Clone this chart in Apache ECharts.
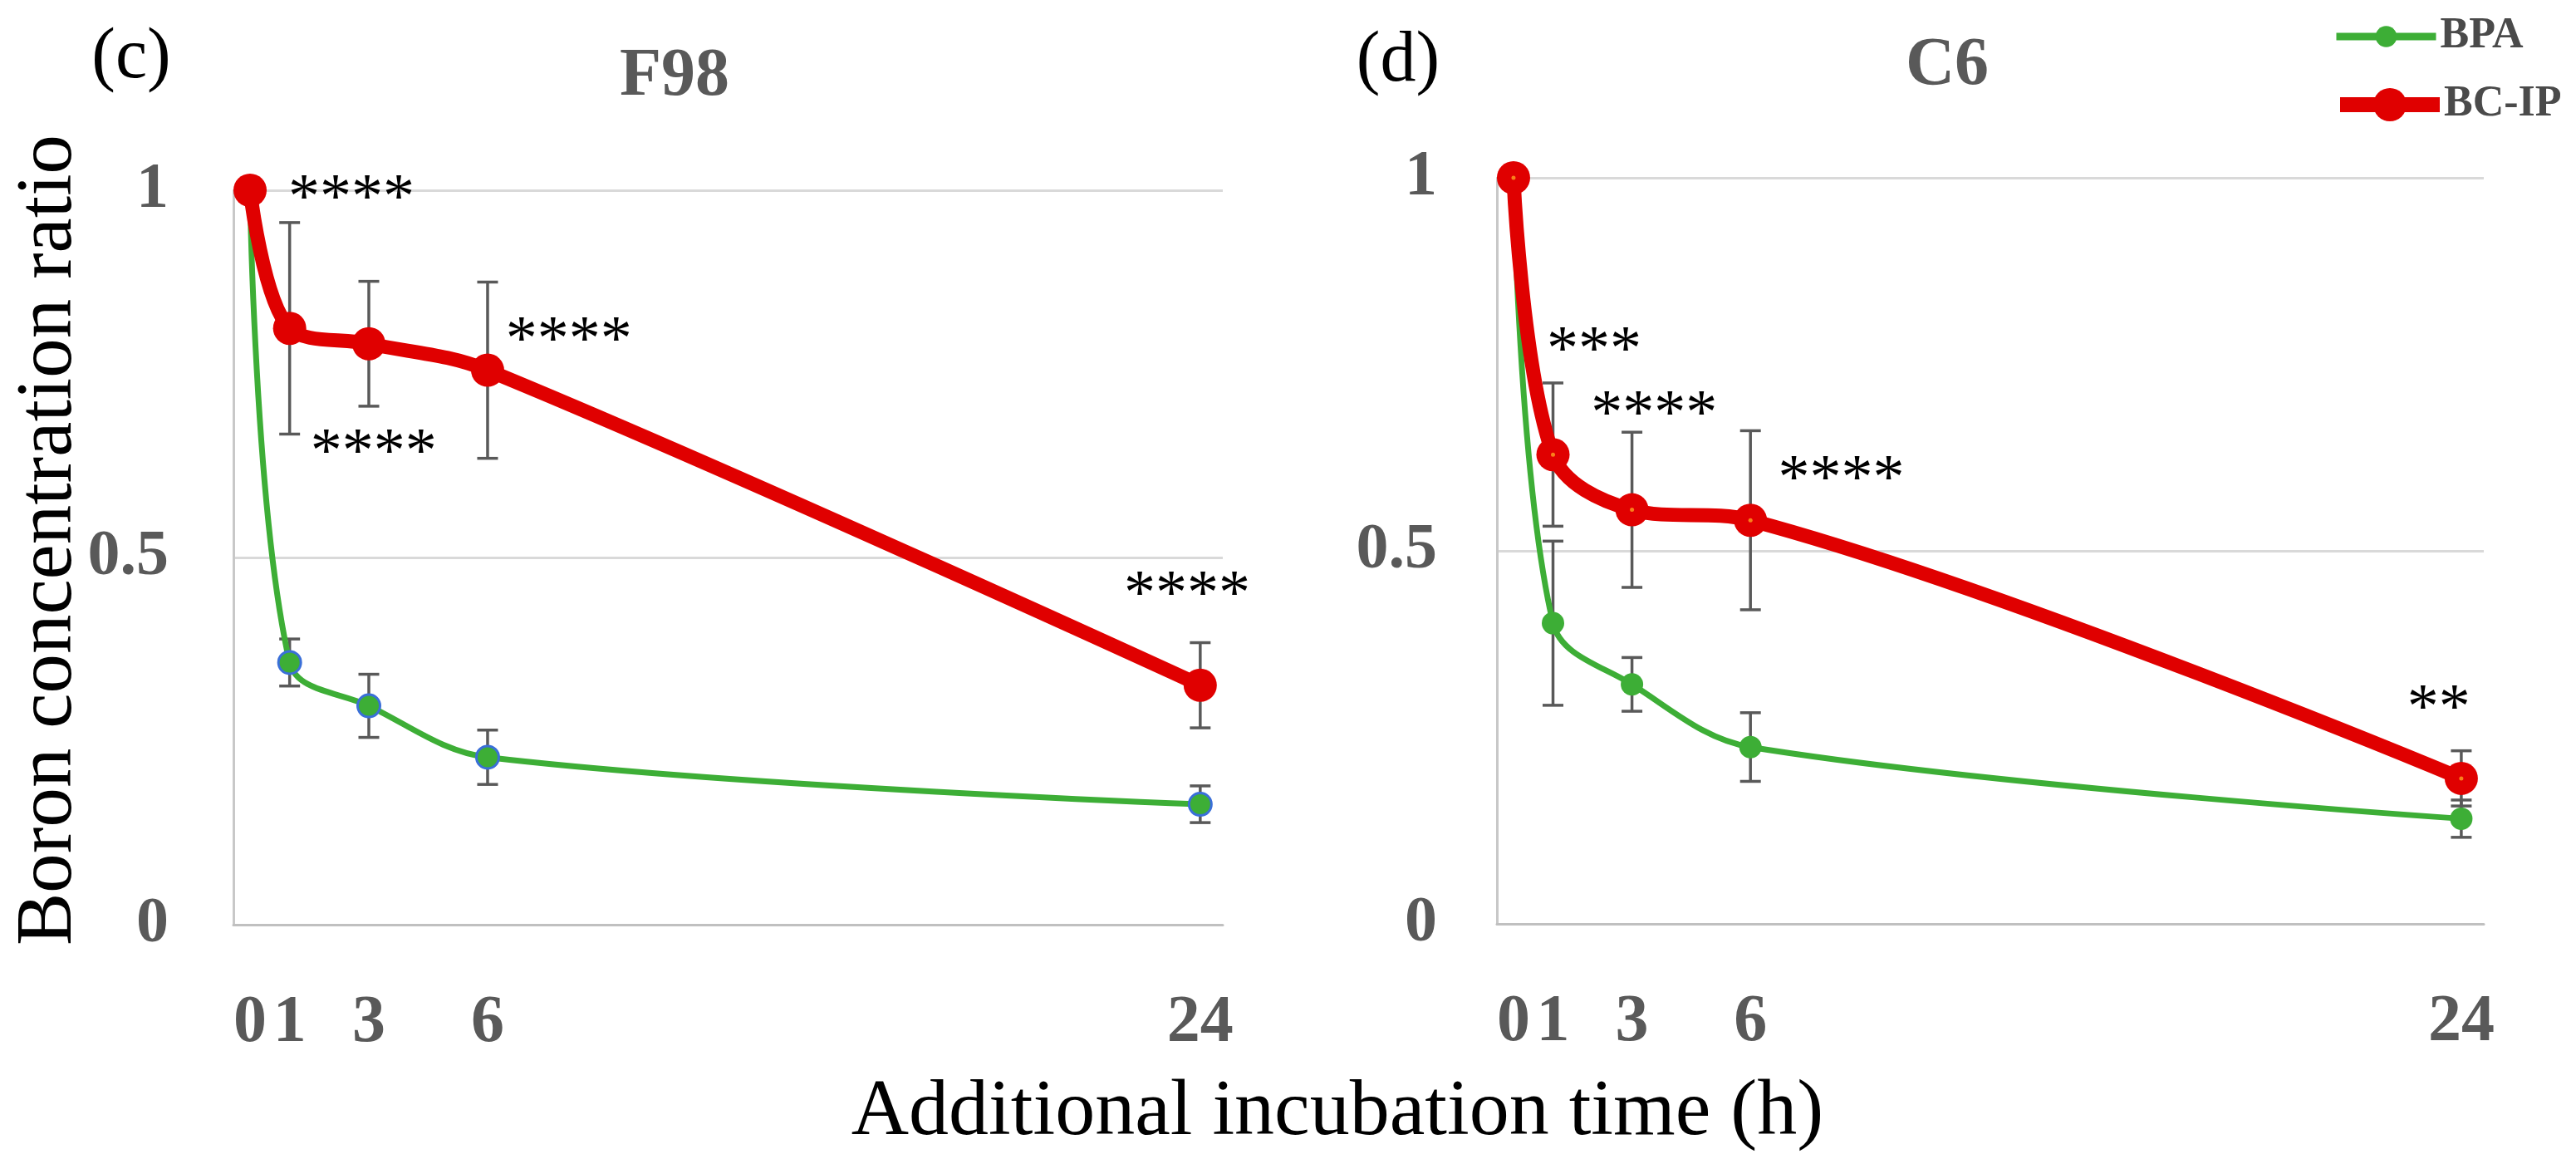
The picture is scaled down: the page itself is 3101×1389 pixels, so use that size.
<!DOCTYPE html>
<html><head><meta charset="utf-8">
<script src="https://cdn.jsdelivr.net/npm/echarts@6/dist/echarts.min.js"></script>
<style>html,body{margin:0;padding:0;background:#fff;} #c{width:3101px;height:1389px;}</style>
</head><body><div id="c"></div>
<script>
// ---- data ----
const hours = [0, 1, 3, 6, 24];
const xTickValues = [0, 1, 3, 6, 24];
const bpaF98 = [1, 0.357, 0.298, 0.228, 0.164];
const bpaF98Sd = [0, 0.032, 0.043, 0.037, 0.025];
const bcipF98 = [1, 0.812, 0.791, 0.755, 0.326];
const bcipF98Sd = [0, 0.144, 0.085, 0.12, 0.058];
const bpaC6 = [1, 0.403, 0.321, 0.237, 0.141];
const bpaC6Sd = [0, 0.11, 0.036, 0.046, 0.025];
const bcipC6 = [1, 0.629, 0.555, 0.541, 0.195];
const bcipC6Sd = [0, 0.096, 0.104, 0.12, 0.037];
const starsF98X = [2.56, 3.12, 8.05, 23.67];
const starsF98Y = [1.003, 0.657, 0.81, 0.464];
const starsF98Text = ['****', '****', '****', '****'];
const starsC6X = [2.04, 3.56, 8.3, 23.43];
const starsC6Y = [0.783, 0.697, 0.61, 0.303];
const starsC6Text = ['***', '****', '****', '**'];
const panelTitles = ['F98', 'C6'];
const panelLetters = ['(c)', '(d)'];
const seriesNames = ['BPA', 'BC-IP'];

// ---- style ----
const FONT = "'Palatino Linotype','Book Antiqua',Palatino,'Liberation Serif',serif";
const GREEN = '#3dae36';
const RED = '#e00000';
const GRAY = '#595959';

const pairs = (xs, ys) => xs.map((x, i) => [x, ys[i]]);
const errData = (xs, ys, sd) => xs.map((x, i) => [x, ys[i] - sd[i], ys[i] + sd[i], sd[i]]).filter(d => d[3] > 0);

function errRender(params, api) {
  const x = api.value(0), lo = api.value(1), hi = api.value(2);
  const a = api.coord([x, lo]), b = api.coord([x, hi]);
  const w = 12.5;
  const st = { stroke: GRAY, lineWidth: 3.5 };
  return { type: 'group', children: [
    { type: 'line', shape: { x1: a[0], y1: a[1], x2: b[0], y2: b[1] }, style: st },
    { type: 'line', shape: { x1: a[0] - w, y1: a[1], x2: a[0] + w, y2: a[1] }, style: st },
    { type: 'line', shape: { x1: b[0] - w, y1: b[1], x2: b[0] + w, y2: b[1] }, style: st }
  ]};
}
function starRender(texts) {
  return function (params, api) {
    const p = api.coord([api.value(0), api.value(1)]);
    return { type: 'text', x: p[0], y: p[1] + 15, style: {
      text: texts[params.dataIndex], fontSize: 76, fontFamily: FONT, fill: '#000',
      align: 'center', verticalAlign: 'middle' } };
  };
}

function xAxisOf(i) {
  return { type: 'value', gridIndex: i, min: -0.42, max: 24.57,
    axisLine: { show: true, onZero: false, lineStyle: { color: '#c0c0c0', width: 3 } },
    axisTick: { show: false }, splitLine: { show: false },
    axisLabel: { customValues: xTickValues, margin: 79, fontSize: 80, fontWeight: 'bold', color: GRAY, fontFamily: FONT } };
}
function yAxisOf(i, margin) {
  return { type: 'value', gridIndex: i, min: 0, max: 1, interval: 0.5,
    axisLine: { show: true, onZero: false, lineStyle: { color: '#c8c8c8', width: 3 } },
    axisTick: { show: false },
    splitLine: { show: true, lineStyle: { color: '#d9d9d9', width: 3 } },
    axisLabel: { margin: margin, fontSize: 78, fontWeight: 'bold', color: GRAY, fontFamily: FONT } };
}
function lineSeries(name, i, ys, color, width, size, border) {
  return { type: 'line', name: name, xAxisIndex: i, yAxisIndex: i, data: pairs(hours, ys),
    smooth: 0.35, clip: false, z: name === 'BPA' ? 3 : 4,
    symbol: 'circle', symbolSize: size,
    lineStyle: { color: color, width: width },
    itemStyle: { color: color, borderColor: border || color, borderWidth: border ? 3 : 0 },
    emphasis: { disabled: true } };
}
function dotSeries(i, ys) {
  return { type: 'scatter', xAxisIndex: i, yAxisIndex: i, data: pairs(hours, ys), z: 5, clip: false,
    symbol: 'circle', symbolSize: 5, itemStyle: { color: '#ffa020' }, silent: true };
}
function errSeries(i, ys, sd) {
  return { type: 'custom', xAxisIndex: i, yAxisIndex: i, z: 1, clip: false,
    data: errData(hours, ys, sd), encode: { x: 0, y: [1, 2] }, renderItem: errRender, silent: true };
}
function starSeries(i, xs, ys, texts) {
  return { type: 'custom', xAxisIndex: i, yAxisIndex: i, z: 6, clip: false,
    data: pairs(xs, ys), encode: { x: 0, y: 1 }, renderItem: starRender(texts), silent: true };
}

const chart = echarts.init(document.getElementById('c'));
chart.setOption({
  backgroundColor: '#fff',
  animation: false,
  grid: [
    { left: 281, top: 229, width: 1191, height: 884 },
    { left: 1802, top: 214, width: 1188, height: 898 }
  ],
  xAxis: [xAxisOf(0), xAxisOf(1)],
  yAxis: [yAxisOf(0, 78), yAxisOf(1, 72)],
  legend: [
    { data: [{ name: seriesNames[0], itemStyle: { color: GREEN, borderWidth: 0 }, lineStyle: { color: GREEN, width: 9 } }],
      left: 2808, top: 18, padding: 0, itemWidth: 120, itemHeight: 32, selectedMode: false,
      textStyle: { fontSize: 52, fontWeight: 'bold', color: '#4a4a4a', fontFamily: FONT } },
    { data: [{ name: seriesNames[1], itemStyle: { color: RED, borderWidth: 0 }, lineStyle: { color: RED, width: 18 } }],
      left: 2808, top: 100, padding: 0, itemWidth: 120, itemHeight: 50, selectedMode: false,
      textStyle: { fontSize: 52, fontWeight: 'bold', color: '#4a4a4a', fontFamily: FONT } }
  ],
  series: [
    errSeries(1, bpaC6, bpaC6Sd),
    errSeries(1, bcipC6, bcipC6Sd),
    lineSeries(seriesNames[0], 1, bpaC6, GREEN, 7, 27),
    lineSeries(seriesNames[1], 1, bcipC6, RED, 17, 40),
    dotSeries(1, bcipC6),
    starSeries(1, starsC6X, starsC6Y, starsC6Text),
    errSeries(0, bpaF98, bpaF98Sd),
    errSeries(0, bcipF98, bcipF98Sd),
    lineSeries(seriesNames[0], 0, bpaF98, GREEN, 7, 27, '#3a6fd8'),
    lineSeries(seriesNames[1], 0, bcipF98, RED, 17, 40),
    starSeries(0, starsF98X, starsF98Y, starsF98Text)
  ],
  graphic: { elements: [
    { type: 'text', x: 158, y: 70, style: { text: panelLetters[0], fontSize: 86, fontFamily: FONT, fill: '#000', align: 'center', verticalAlign: 'middle' } },
    { type: 'text', x: 1683, y: 74, style: { text: panelLetters[1], fontSize: 86, fontFamily: FONT, fill: '#000', align: 'center', verticalAlign: 'middle' } },
    { type: 'text', x: 812, y: 93, style: { text: panelTitles[0], fontSize: 82, fontWeight: 'bold', fontFamily: FONT, fill: GRAY, align: 'center', verticalAlign: 'middle' } },
    { type: 'text', x: 2344, y: 80, style: { text: panelTitles[1], fontSize: 82, fontWeight: 'bold', fontFamily: FONT, fill: GRAY, align: 'center', verticalAlign: 'middle' } },
    { type: 'text', x: 60, y: 650, rotation: Math.PI / 2, style: { text: 'Boron concentration ratio', fontSize: 95, fontFamily: FONT, fill: '#000', align: 'center', verticalAlign: 'middle' } },
    { type: 'text', x: 1610, y: 1340, style: { text: 'Additional incubation time (h)', fontSize: 96, fontFamily: FONT, fill: '#000', align: 'center', verticalAlign: 'middle' } }
  ] }
});
</script>
</body></html>
